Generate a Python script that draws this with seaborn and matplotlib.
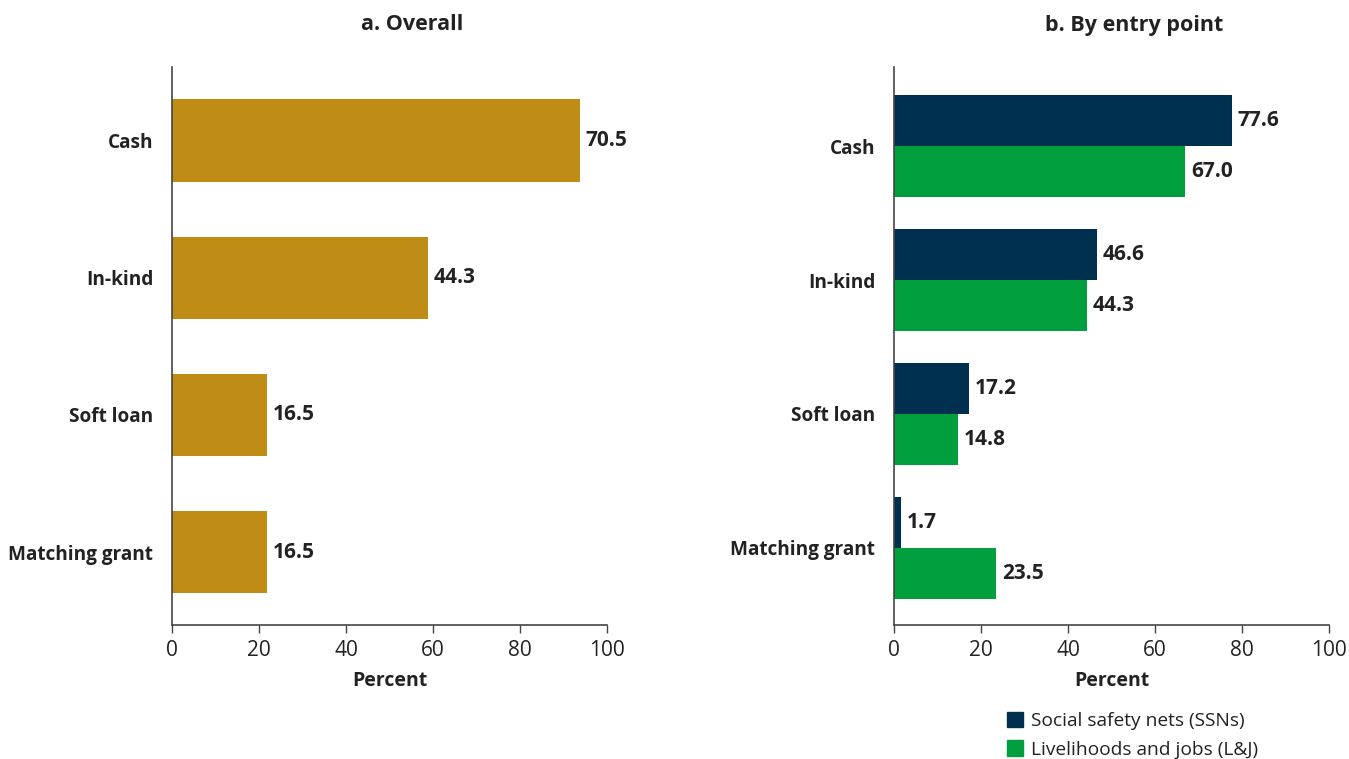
import pandas as pd
import matplotlib.pyplot as plt
import seaborn as sns
from matplotlib.patches import Patch

# categories and values
categories = ['Cash', 'In-kind', 'Soft loan', 'Matching grant']
# panel a: bar lengths as drawn on the axis, and the printed labels
overall_bar = [93.8, 58.9, 21.9, 21.9]
overall_label = ['70.5', '44.3', '16.5', '16.5']
# panel b
series = ['Social safety nets (SSNs)', 'Livelihoods and jobs (L&J)']
ssn_vals = [77.6, 46.6, 17.2, 1.7]
lj_vals = [67.0, 44.3, 14.8, 23.5]

gold = '#BF8D16'
navy = '#003050'
green = '#009E3D'
txt = '#222222'

sns.set_theme(style='white')
plt.rcParams['font.family'] = ['Open Sans', 'DejaVu Sans']

fig = plt.figure(figsize=(13.49, 7.59), dpi=100)
ax1 = fig.add_axes([172 / 1349, 1 - 625 / 759, 435 / 1349, 558 / 759])
ax2 = fig.add_axes([894 / 1349, 1 - 625 / 759, 435 / 1349, 558 / 759])

df_a = pd.DataFrame({'cat': categories, 'val': overall_bar})
sns.barplot(data=df_a, y='cat', x='val', color=gold, width=0.6,
            saturation=1, ax=ax1, orient='h', linewidth=0)
for i, (v, lab) in enumerate(zip(overall_bar, overall_label)):
    ax1.text(v + 1.3, i, lab, va='center', ha='left', fontsize=15,
             fontweight='bold', color=txt)
ax1.set_ylim(3.53, -0.535)

df_b = pd.DataFrame({
    'cat': categories * 2,
    'val': ssn_vals + lj_vals,
    'grp': [series[0]] * 4 + [series[1]] * 4,
})
sns.barplot(data=df_b, y='cat', x='val', hue='grp', hue_order=series,
            palette=[navy, green], width=0.755, saturation=1, ax=ax2,
            orient='h', legend=False, linewidth=0)
for cont in ax2.containers:
    ax2.bar_label(cont, fmt='%.1f', padding=4, fontsize=15,
                  fontweight='bold', color=txt)
ax2.set_ylim(3.575, -0.59)

for ax in (ax1, ax2):
    ax.set_xlim(0, 100)
    ax.set_xticks([0, 20, 40, 60, 80, 100])
    ax.tick_params(axis='x', bottom=True, length=6, width=1, color='#444444',
                   labelsize=15, labelcolor=txt, pad=5)
    ax.tick_params(axis='y', left=False, labelsize=13.7, pad=7.5)
    for lab in ax.get_yticklabels():
        lab.set_fontweight('bold')
        lab.set_color(txt)
    ax.set_ylabel('')
    ax.set_xlabel('Percent', fontsize=14, fontweight='bold', color=txt,
                  labelpad=7)
    sns.despine(ax=ax)
    for s in ('left', 'bottom'):
        ax.spines[s].set_color('#444444')
        ax.spines[s].set_linewidth(1.2)

fig.text(412 / 1349, 1 - 25 / 759, 'a. Overall', ha='center', va='center',
         fontsize=15.5, fontweight='bold', color=txt)
fig.text(1134 / 1349, 1 - 25 / 759, 'b. By entry point', ha='center',
         va='center', fontsize=15.5, fontweight='bold', color=txt)

handles = [Patch(color=navy, label=series[0]), Patch(color=green, label=series[1])]
fig.legend(handles=handles, loc='upper left',
           bbox_to_anchor=(997 / 1349, 1 - 702 / 759), frameon=False,
           fontsize=13.8, handlelength=0.85, handleheight=0.85,
           handletextpad=0.4, labelspacing=0.55, borderpad=0, labelcolor=txt)

fig.savefig('out.png', dpi=100)
